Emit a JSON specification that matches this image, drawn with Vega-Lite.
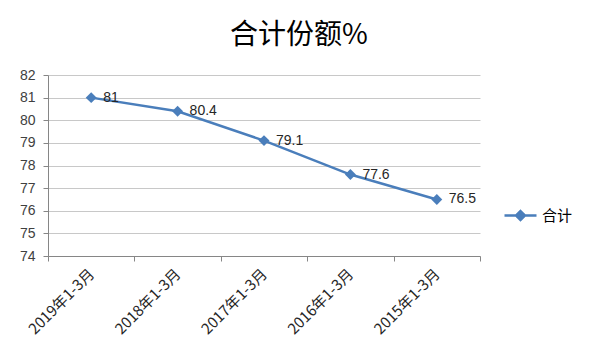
{
  "$schema": "https://vega.github.io/schema/vega-lite/v6.json",
  "autosize": "none",
  "width": 432,
  "height": 181,
  "padding": {"left": 48, "top": 75, "right": 120, "bottom": 105},
  "background": "white",
  "title": {
    "text": "合计份额%",
    "font": "Noto Sans CJK SC",
    "fontSize": 28,
    "fontWeight": "normal",
    "color": "#000000",
    "anchor": "middle",
    "dx": 35,
    "offset": 18
  },
  "data": {
    "values": [
      {"period": "2019年1-3月", "value": 81, "series": "合计"},
      {"period": "2018年1-3月", "value": 80.4, "series": "合计"},
      {"period": "2017年1-3月", "value": 79.1, "series": "合计"},
      {"period": "2016年1-3月", "value": 77.6, "series": "合计"},
      {"period": "2015年1-3月", "value": 76.5, "series": "合计"}
    ]
  },
  "encoding": {
    "x": {
      "field": "period",
      "type": "nominal",
      "sort": null,
      "scale": {"paddingInner": 0, "paddingOuter": 0},
      "axis": {
        "title": null,
        "labelAngle": -45,
        "labelAlign": "right",
        "labelBaseline": "middle",
        "labelPadding": 10,
        "labelFont": "Noto Sans CJK SC",
        "labelFontSize": 15,
        "labelColor": "#262626",
        "tickBand": "extent",
        "tickSize": 5,
        "tickColor": "#868686",
        "domainColor": "#868686",
        "grid": false
      }
    },
    "y": {
      "field": "value",
      "type": "quantitative",
      "scale": {"domain": [74, 82], "nice": false, "zero": false},
      "axis": {
        "title": null,
        "values": [74, 75, 76, 77, 78, 79, 80, 81, 82],
        "labelFont": "Liberation Sans",
        "labelFontSize": 14,
        "labelColor": "#404040",
        "labelPadding": 8,
        "tickSize": 5,
        "tickColor": "#868686",
        "domainColor": "#868686",
        "gridColor": "#c8c8c8",
        "grid": true
      }
    }
  },
  "layer": [
    {
      "mark": {"type": "line", "strokeWidth": 2.5},
      "encoding": {
        "color": {
          "field": "series",
          "type": "nominal",
          "scale": {"range": ["#4A7EBB"]},
          "legend": {
            "title": null,
            "orient": "none",
            "legendX": 455,
            "legendY": 123,
            "symbolType": "M-1,0L1,0M0,-0.28L0.28,0L0,0.28L-0.28,0Z",
            "symbolSize": 1024,
            "symbolStrokeWidth": 2.5,
            "symbolFillColor": "#4A7EBB",
            "labelFont": "Noto Sans CJK SC",
            "labelFontSize": 15,
            "labelColor": "#000000",
            "labelOffset": 4
          }
        }
      }
    },
    {
      "mark": {"type": "point", "shape": "diamond", "filled": true, "size": 120, "opacity": 1, "color": "#4A7EBB"}
    },
    {
      "mark": {"type": "text", "align": "left", "baseline": "middle", "dx": 12, "font": "Liberation Sans", "fontSize": 14, "color": "#262626"},
      "encoding": {"text": {"field": "value", "type": "quantitative"}}
    }
  ],
  "config": {"view": {"stroke": null}}
}
